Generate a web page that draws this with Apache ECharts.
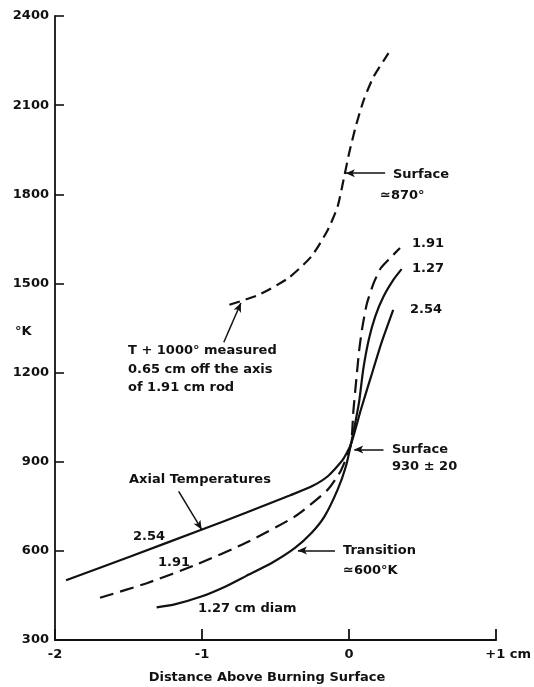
<!DOCTYPE html>
<html>
<head>
<meta charset="utf-8">
<script src="https://cdn.jsdelivr.net/npm/echarts@6/dist/echarts.min.js"></script>
<style>html,body{margin:0;padding:0;background:#fff}#c{width:534px;height:687px}</style>
</head>
<body>
<div id="c"></div>
<script>
// ---- data (distance above burning surface in cm, temperature in °K) ----
const xTickValues = [-2, -1, 0, 1];
const yTickValues = [300, 600, 900, 1200, 1500, 1800, 2100, 2400];

// T + 1000°, measured 0.65 cm off the axis of the 1.91 cm rod
const offAxis191 = [[-0.814,1428],[-0.613,1462],[-0.413,1518],[-0.256,1591],[-0.145,1680],[-0.078,1759],[-0.033,1860],[0.0,1938],[0.045,2028],[0.100,2118],[0.167,2196],[0.268,2275]];
// Axial temperatures
const axial254 = [[-1.925,501],[-1.483,582],[-1.0,672],[-0.702,728],[-0.40,787],[-0.25,818],[-0.145,851],[-0.045,905],[0.012,958],[0.08,1075],[0.15,1188],[0.22,1300],[0.30,1411]];
const axial191 = [[-1.694,442],[-1.371,492],[-1.037,554],[-0.702,627],[-0.368,716],[-0.145,806],[-0.056,870],[0.012,958],[0.029,1070],[0.049,1176],[0.069,1277],[0.091,1355],[0.122,1434],[0.167,1501],[0.216,1552],[0.268,1580],[0.346,1619]];
const axial127 = [[-1.309,410],[-1.193,419],[-1.0,447],[-0.836,481],[-0.702,515],[-0.524,560],[-0.368,610],[-0.256,660],[-0.167,716],[-0.078,806],[-0.022,884],[0.012,958],[0.067,1098],[0.096,1210],[0.134,1311],[0.178,1389],[0.234,1456],[0.301,1512],[0.357,1548]];

// annotation arrows [from, to] in data coordinates
const arrows = [
  [[0.245,1871],[-0.022,1871]],
  [[-0.852,1302],[-0.736,1434]],
  [[0.234,941],[0.035,941]],
  [[-1.159,800],[-1.003,672]],
  [[-0.096,601],[-0.348,601]]
];

const FONT = '"DejaVu Sans", "Liberation Sans", sans-serif';
const INK = '#111';

const notes = [
  ['Surface', 393, 168], ['\u2243870\u00b0', 380, 189],
  ['1.91', 412, 237], ['1.27', 412, 262], ['2.54', 410, 303],
  ['Surface', 392, 443], ['930 \u00b1 20', 392, 460],
  ['T + 1000\u00b0 measured', 128, 344], ['0.65 cm off the axis', 128, 363], ['of 1.91 cm rod', 128, 381],
  ['Axial Temperatures', 129, 473],
  ['2.54', 133, 530], ['1.91', 158, 556], ['1.27 cm diam', 198, 602],
  ['Transition', 343, 544], ['\u2243600\u00b0K', 343, 564],
  ['\u00b0K', 15, 325]
];

const chart = echarts.init(document.getElementById('c'), null, {renderer: 'canvas'});

function lineSeries(name, data, dashed, dash) {
  return {
    name: name, type: 'line', data: data, smooth: 0.2, symbol: 'none',
    lineStyle: {color: INK, width: 2.2, type: dashed ? dash : 'solid', cap: 'butt'},
    z: 3
  };
}

const series = [
  lineSeries('T+1000° off-axis 1.91', offAxis191, true, [11, 6]),
  lineSeries('2.54', axial254, false),
  lineSeries('1.91', axial191, true, [14, 7]),
  lineSeries('1.27', axial127, false)
];
series.push({
  type: 'line', data: [], symbol: 'none', silent: true,
  markLine: {
    silent: true, animation: false,
    symbol: ['none', 'arrow'], symbolSize: [6, 9],
    label: {show: false},
    lineStyle: {color: INK, width: 1.5, type: 'solid'},
    emphasis: {disabled: true},
    data: arrows.map(a => [{coord: a[0]}, {coord: a[1]}])
  }
});

chart.setOption({
  animation: false,
  backgroundColor: '#fff',
  grid: {left: 55, right: 30, top: 16, bottom: 47, containLabel: false},
  xAxis: {
    type: 'value', min: xTickValues[0], max: xTickValues[xTickValues.length - 1], interval: 1,
    axisLine: {show: true, onZero: false, lineStyle: {color: INK, width: 1.8}},
    axisTick: {show: true, inside: true, length: 11, lineStyle: {color: INK, width: 1.8}},
    splitLine: {show: false},
    axisLabel: {
      margin: 8, color: INK, fontSize: 13, fontWeight: 'bold', fontFamily: FONT,
      showMinLabel: true, showMaxLabel: true,
      formatter: v => v === 1 ? '{p|+1 cm}' : (v < 0 ? '-' + Math.abs(v) : String(v)),
      rich: {p: {padding: [0, 0, 0, 24], color: INK, fontSize: 13, fontWeight: 'bold', fontFamily: FONT}}
    }
  },
  yAxis: {
    type: 'value', min: yTickValues[0], max: yTickValues[yTickValues.length - 1], interval: 300,
    axisLine: {show: true, onZero: false, lineStyle: {color: INK, width: 1.8}},
    axisTick: {show: true, inside: true, length: 9, lineStyle: {color: INK, width: 1.6}},
    splitLine: {show: false},
    axisLabel: {margin: 6, color: INK, fontSize: 13, fontWeight: 'bold', fontFamily: FONT, formatter: v => String(v)}
  },
  graphic: notes.map(n => ({
    type: 'text', left: n[1], top: n[2], silent: true,
    style: {text: n[0], fill: INK, font: 'bold 13px ' + FONT}
  })).concat([{
    type: 'text', left: 'center', top: 671, silent: true,
    style: {text: 'Distance Above Burning Surface', fill: INK, font: 'bold 13px ' + FONT}
  }]),
  series: series
});
</script>
</body>
</html>
